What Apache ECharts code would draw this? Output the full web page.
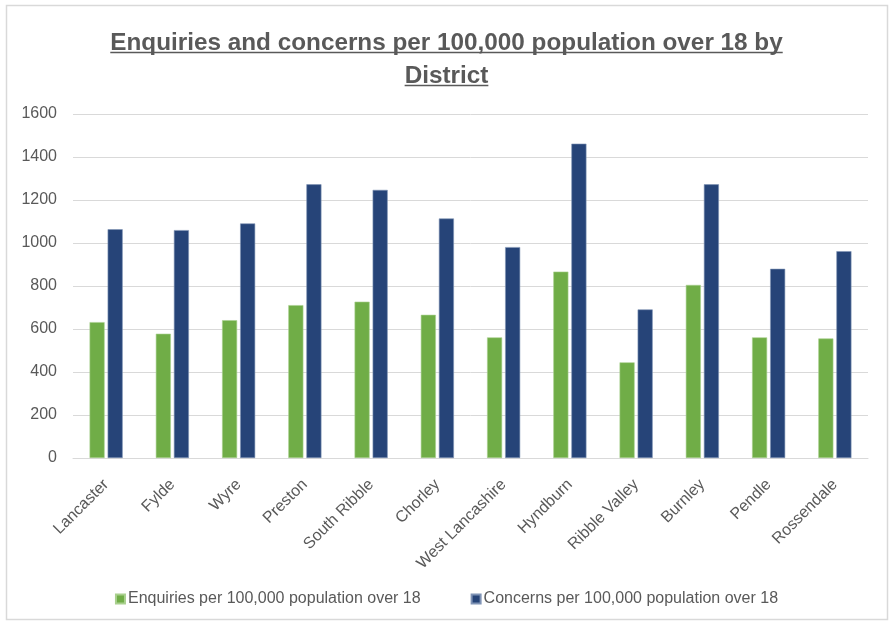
<!DOCTYPE html>
<html>
<head>
<meta charset="utf-8">
<script src="https://cdn.jsdelivr.net/npm/echarts@6/dist/echarts.min.js"></script>
<style>
  html, body { margin: 0; padding: 0; background: #fff; }
  #chart { width: 893px; height: 626px; }
</style>
</head>
<body>
<div id="chart"></div>
<script>
// Districts along the x axis
const districts = ['Lancaster', 'Fylde', 'Wyre', 'Preston', 'South Ribble', 'Chorley',
  'West Lancashire', 'Hyndburn', 'Ribble Valley', 'Burnley', 'Pendle', 'Rossendale'];

// Rates per 100,000 population over 18
const enquiries = [632, 578, 641, 711, 727, 666, 561, 867, 445, 805, 561, 556];
const concerns = [1064, 1060, 1091, 1273, 1247, 1114, 981, 1462, 691, 1273, 880, 962];

// Value axis ticks
const yTicks = [0, 200, 400, 600, 800, 1000, 1200, 1400, 1600];

const seriesNames = ['Enquiries per 100,000 population over 18', 'Concerns per 100,000 population over 18'];
const titleLines = ['Enquiries and concerns per 100,000 population over 18 by', 'District'];

const FONT = '"Liberation Sans", Arial, sans-serif';
const TITLE_SIZE = 24.3;
const TEXT = '#595959';

const chart = echarts.init(document.getElementById('chart'), null, { renderer: 'canvas' });

const frame = {
  type: 'rect',
  shape: { x: 6.5, y: 5.5, width: 881, height: 614 },
  style: { fill: 'none', stroke: '#d9d9d9', lineWidth: 1.5 },
  silent: true
};

chart.setOption({
  animation: false,
  backgroundColor: '#fff',
  textStyle: { fontFamily: FONT },
  title: {
    text: titleLines.join('\n'),
    left: 'center',
    top: 22,
    textStyle: {
      fontFamily: FONT,
      fontSize: TITLE_SIZE,
      fontWeight: 'bold',
      color: TEXT,
      lineHeight: 33
    }
  },
  legend: {
    bottom: 14,
    left: 'center',
    itemWidth: 9,
    itemHeight: 9,
    itemGap: 50,
    icon: 'rect',
    textStyle: { fontFamily: FONT, fontSize: 16, color: TEXT, padding: [0, 0, 0, -2] },
    data: seriesNames
  },
  grid: { left: 73, right: 25, top: 114, bottom: 168, containLabel: false },
  xAxis: {
    type: 'category',
    data: districts,
    axisLine: { show: true, lineStyle: { color: '#d9d9d9', width: 1 } },
    axisTick: { show: false },
    axisLabel: {
      rotate: 45,
      interval: 0,
      fontFamily: FONT,
      fontSize: 16,
      color: TEXT,
      margin: 24
    }
  },
  yAxis: {
    type: 'value',
    min: yTicks[0],
    max: yTicks[yTicks.length - 1],
    interval: yTicks[1] - yTicks[0],
    axisLine: { show: false },
    axisTick: { show: false },
    splitLine: { lineStyle: { color: '#d9d9d9', width: 1 } },
    axisLabel: {
      fontFamily: FONT,
      fontSize: 16,
      color: TEXT,
      margin: 16,
      formatter: function (v) { return String(v); }
    }
  },
  series: [
    {
      name: seriesNames[0],
      type: 'bar',
      data: enquiries,
      barGap: '20%',
      barCategoryGap: '50%',
      itemStyle: { color: '#70AD47', borderColor: '#a9d08e', borderWidth: 0.6 }
    },
    {
      name: seriesNames[1],
      type: 'bar',
      data: concerns,
      itemStyle: { color: '#264478', borderColor: '#7f93b5', borderWidth: 0.6 }
    }
  ],
  graphic: [frame]
});

// Underline each title line, sized to the rendered text
function drawTitleUnderlines() {
  const ctx = document.createElement('canvas').getContext('2d');
  ctx.font = 'bold ' + TITLE_SIZE + 'px ' + FONT;
  const W = chart.getWidth();
  const underlineY = [52.5, 85.5];
  const lines = titleLines.map(function (t, i) {
    const w = ctx.measureText(t).width;
    return {
      type: 'line',
      shape: { x1: (W - w) / 2, y1: underlineY[i], x2: (W + w) / 2, y2: underlineY[i] },
      style: { stroke: TEXT, lineWidth: 1.5 },
      silent: true
    };
  });
  chart.setOption({ graphic: [frame].concat(lines) }, { replaceMerge: ['graphic'] });
}
drawTitleUnderlines();
</script>
</body>
</html>
